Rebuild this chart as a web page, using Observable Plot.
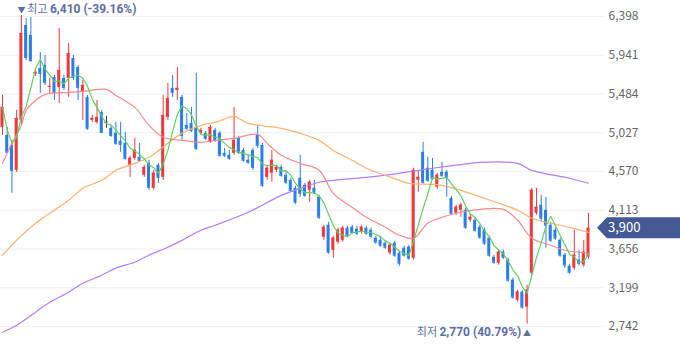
<!DOCTYPE html>
<html><head><meta charset="utf-8">
<script src="https://cdn.jsdelivr.net/npm/d3@7"></script>
<script src="https://cdn.jsdelivr.net/npm/@observablehq/plot@0.6"></script>
<style>
html,body{margin:0;padding:0;background:#fff;}
#chart svg{display:block;}
</style></head><body><div id="chart"></div>
<script>
// Daily candles (KRW), oldest first
const opens = [5090,4996,4878,4584,5173,6292,6174,5715,5785,5821,
5562,5679,5562,5668,5668,5903,5797,5503,5444,5173,
5149,5267,5150,5079,5020,4925,4902,4643,4725,4737,
4525,4666,4372,4643,4501,5208,5550,5526,5444,5114,
5138,5090,5020,5020,4914,5055,5020,4784,4761,4784,
4961,4819,4702,4819,4996,4878,4501,4549,4584,4619,
4525,4466,4372,4490,4407,4348,4372,4266,3795,3936,
3641,3736,3759,3901,3912,3889,3853,3901,3877,3783,
3759,3724,3606,3724,3606,3665,3677,3547,4466,4796,
4608,4584,4384,4560,4560,4254,4077,4113,4113,3995,
3995,3912,3877,3783,3559,3488,3618,3524,3288,3052,
3147,2970,3370,4077,4172,4113,3936,3877,3759,3583,
3453,3429,3524,3465,3559];
const highs = [5467,5090,4937,5291,6410,6374,6386,5785,5974,5939,
5668,5703,6257,5703,6080,5939,5821,5644,5467,5232,
5408,5291,5220,5102,5149,5149,5031,4749,4961,4902,
4643,4702,4584,4666,5467,5609,5703,5797,5467,5255,
5326,5727,5079,5043,5114,5079,5043,4843,4819,5326,
4984,4843,4761,4843,5114,4902,4643,4819,4643,4643,
4560,4490,4395,4761,4431,4466,4466,4289,3936,3971,
3806,3901,3924,3924,3936,3924,3936,3924,3901,3806,
3806,3747,3724,3747,3630,3688,3700,4608,4584,4914,
4737,4725,4549,4678,4584,4277,4172,4195,4136,4054,
4019,3936,3901,3806,3583,3641,3641,3547,3312,3170,
3170,3229,4372,4372,4289,4266,3971,3901,3783,3606,
3476,3877,3641,3759,4077];
const lows = [4996,4784,4313,4560,5114,5880,5856,5691,5491,5585,
5491,5408,5373,5526,5444,5644,5408,5173,5055,5149,
5126,5020,5079,4973,4878,4796,4702,4501,4702,4678,
4501,4348,4348,4431,4466,5173,5444,5408,4937,5055,
5031,4819,4996,4937,4902,4914,4737,4737,4702,4761,
4772,4678,4655,4584,4843,4384,4466,4443,4560,4501,
4419,4325,4183,4266,4266,4207,4301,4007,3759,3594,
3547,3712,3736,3795,3830,3818,3830,3818,3783,3712,
3677,3652,3583,3559,3453,3559,3524,3524,4325,4419,
4443,4466,4360,4501,4266,4054,4054,4030,3889,3971,
3853,3771,3700,3559,3476,3465,3535,3265,3064,3029,
2946,2770,3347,4054,3971,3665,3736,3759,3559,3429,
3359,3406,3453,3441,3535];
const closes = [5326,4796,4584,5196,6198,5915,5880,5738,5727,5621,
5573,5503,5762,5562,5962,5679,5562,5585,5079,5196,
5208,5031,5150,4996,4902,4890,4725,4725,4819,4702,
4619,4384,4549,4501,5232,5432,5503,5550,4996,5079,
5055,4843,5055,4961,5090,4937,4761,4761,4725,4937,
4796,4702,4678,4619,4878,4407,4608,4702,4619,4525,
4443,4348,4207,4313,4289,4443,4325,4030,3912,3618,
3783,3877,3901,3818,3853,3842,3912,3842,3806,3736,
3700,3677,3700,3583,3488,3583,3547,4584,4501,4443,
4466,4490,4525,4525,4501,4077,4148,4172,3912,4030,
3877,3795,3724,3583,3500,3618,3559,3288,3088,3147,
2970,3170,4348,4148,4019,3936,3759,3783,3583,3465,
3382,3583,3488,3618,3900];

// Moving averages (day index -> value)
const ma20Days = [0,2,4,5,7,9,14,17,22,24,28,31,34,38,42,45,49,54,56,59,63,67,70,74,77,81,84,87,90,93,97,101,106,109,112,116,119,124];
const ma20 = [4666,4902,5114,5291,5408,5479,5503,5514,5538,5467,5326,5114,4973,4937,4914,4937,4961,5008,4902,4761,4666,4584,4313,4148,4030,3912,3818,3783,3960,4030,4089,4124,4124,3995,3783,3700,3641,3606];
const ma60Days = [0,3,7,14,17,21,24,28,31,35,38,42,45,49,50,52,59,63,67,70,74,77,81,84,86,91,93,97,102,105,109,112,116,120,124];
const ma60 = [3583,3759,3960,4230,4372,4466,4584,4666,4737,4902,5020,5114,5149,5220,5196,5138,5079,5020,4937,4819,4702,4608,4525,4466,4431,4419,4407,4348,4254,4195,4113,4018,3960,3912,3853];
const ma120Days = [0,3,7,10,14,17,21,24,28,31,35,38,42,45,52,59,63,67,70,77,84,91,99,101,109,112,120,124];
const ma120 = [2675,2758,2911,3029,3147,3253,3347,3430,3500,3583,3677,3759,3877,3936,4089,4289,4372,4443,4466,4501,4549,4608,4666,4678,4666,4584,4490,4431];

const yTicks = [2742,3199,3656,4113,4570,5027,5484,5941,6398];

const candles = closes.map((c, i) => ({day: i, open: opens[i], high: highs[i], low: lows[i], close: c}));
const UP = "#ef3a3d", DOWN = "#2b7de9", FLAT = "#3a3a3a";
const col = d => d.close > d.open ? UP : d.close < d.open ? DOWN : FLAT;

const lastClose = closes[closes.length - 1];
const maxHigh = d3.max(highs), maxIdx = highs.indexOf(maxHigh);
const minLow = d3.min(lows), minIdx = lows.indexOf(minLow);
const fmt = d3.format(",");
const maxPct = ((lastClose - maxHigh) / maxHigh * 100).toFixed(2);
const minPct = ((lastClose - minLow) / minLow * 100).toFixed(2);
const hw = 0.32;
const FONT = "'Noto Sans CJK KR', 'Noto Sans', sans-serif";
const NUMFONT = "Roboto, 'Noto Sans', sans-serif";
const LBL = "#5d6ea3";

const chart = Plot.plot({
  width: 680, height: 358,
  marginLeft: 0, marginRight: 77, marginTop: 0, marginBottom: 0,
  style: {background: "#fff", fontFamily: FONT, overflow: "visible"},
  x: {domain: [0, closes.length - 1], range: [2, 588], axis: null},
  y: {domain: [2742, 6398], range: [326, 16]},
  marks: [
    Plot.gridY(yTicks, {stroke: "#eceef5", strokeOpacity: 1}),
    Plot.axisY(yTicks, {anchor: "right", tickSize: 0, tickPadding: 5, tickFormat: fmt, fontSize: 12, color: "#666", label: null}),
    Plot.ruleX(candles, {x: "day", y1: "low", y2: "high", stroke: col, strokeWidth: 1}),
    Plot.rect(candles, {x1: d => d.day - hw, x2: d => d.day + hw, y1: "open", y2: "close", fill: col}),
    Plot.ruleY(candles, {y: "close", x1: d => d.day - hw, x2: d => d.day + hw, stroke: col}),
    Plot.line(ma120, {x: ma120Days, y: ma120, stroke: "#b47cf6", strokeWidth: 1.2, curve: "catmull-rom"}),
    Plot.line(ma60, {x: ma60Days, y: ma60, stroke: "#ffb26e", strokeWidth: 1.2, curve: "catmull-rom"}),
    Plot.line(ma20, {x: ma20Days, y: ma20, stroke: "#f58a8a", strokeWidth: 1.2, curve: "catmull-rom"}),
    Plot.line(candles, Plot.windowY({k: 5, anchor: "end", reduce: "mean", strict: false}, {x: "day", y: "close", stroke: "#5fd05f", strokeWidth: 1.2})),
    Plot.text([{day: maxIdx, v: maxHigh}], {x: "day", y: "v", text: d => `▼ 최고 ${fmt(d.v)} (${maxPct}%)`, dy: -6, dx: -4, textAnchor: "start", fill: LBL, fontSize: 11, className: "maxlbl"}),
    Plot.text([{day: minIdx, v: minLow}], {x: "day", y: "v", text: d => `최저 ${fmt(d.v)} (${minPct}%) ▲`, dy: 8, dx: 4, textAnchor: "end", fill: LBL, fontSize: 11, className: "minlbl"})
  ]
});

const svg = d3.select(chart);
// rich text for the high / low labels
const maxT = svg.select("g.maxlbl text");
if (!maxT.empty()) {
  maxT.text(null);
  maxT.append("tspan").attr("font-size", 8).text("▼ ");
  maxT.append("tspan").text("최고 ");
  maxT.append("tspan").attr("font-weight", 700).attr("font-family", NUMFONT).attr("font-size", 12)
    .text(`${fmt(maxHigh)} (${maxPct}%)`);
}
const minT = svg.select("g.minlbl text");
if (!minT.empty()) {
  minT.text(null);
  minT.append("tspan").text("최저 ");
  minT.append("tspan").attr("font-weight", 700).attr("font-family", NUMFONT).attr("font-size", 12)
    .text(`${fmt(minLow)} (${minPct}%)`);
  minT.append("tspan").attr("font-size", 8).text(" ▲");
}

// current price tag on the right
const yc = chart.scale("y").apply(lastClose);
const g = svg.append("g");
g.append("path")
  .attr("d", `M597,${yc} L607,${yc - 10.5} H680 V${yc + 10.5} H607 Z`)
  .attr("fill", "#455a94");
g.append("text")
  .attr("x", 608).attr("y", yc).attr("dy", "0.36em")
  .attr("text-anchor", "start")
  .attr("fill", "#fff").attr("font-size", 13)
  .attr("font-family", FONT)
  .text(fmt(lastClose));

document.getElementById("chart").appendChild(chart);
</script>
</body></html>
